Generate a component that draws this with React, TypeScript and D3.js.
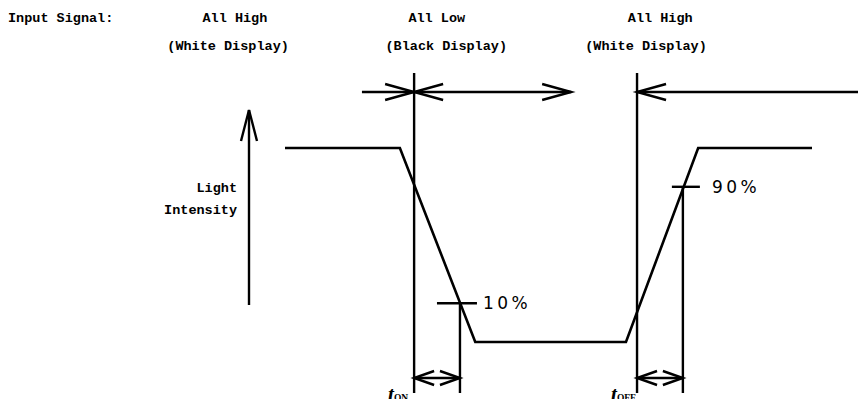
import React from 'react';
import * as d3 from 'd3';

// waveform of light intensity (time units, intensity %)
const waveTime = [0, 21.8, 36.1, 64.7, 78.4, 100];
const waveLevel = [100, 100, 0, 0, 100, 100];

// input signal edges and response points
const signalEdges = [24.5, 66.8];
const responsePoints = [33.2, 75.5];
const markerLevels = [20, 80];
const markerLabels = ['10%', '90%'];
const timeLabels = [
    { main: 't', sub: 'ON' },
    { main: 't', sub: 'OFF' },
];

// input signal states
const stateTitles = ['All High', 'All Low', 'All High'];
const stateSubtitles = ['(White Display)', '(Black Display)', '(White Display)'];
const stateCenters = [-9.5, 28.8, 71.2];
const subCenters = [-10.8, 30.6, 68.5];
const spanStarts = [14.6, 24.5, 66.8];
const spanEnds = [24.5, 54.3, 110.2];

const W = 866;
const H = 407;

const App: React.FC = () => {
    const x = d3.scaleLinear().domain([0, 100]).range([285, 812]);
    const y = d3.scaleLinear().domain([0, 100]).range([342, 148]);

    const wave = d3
        .line<number>()
        .x((_d, i) => x(waveTime[i]))
        .y((d) => y(d));

    const mono = "'Liberation Mono', 'DejaVu Sans Mono', monospace";
    const topY = 92;
    const dimY = 378;
    const lineTop = 73;
    const lineBottom = 393;

    // open chevron arrowhead at (px, py) pointing in direction dir (+1 right, -1 left)
    const chevron = (px: number, py: number, dir: number, len: number, spread: number) =>
        `M${px - dir * len},${py - spread}L${px},${py}L${px - dir * len},${py + spread}`;

    return (
        <svg width={W} height={H} style={{ display: 'block', margin: '-8px', background: '#fff' }}>
            <g fill="#000" fontFamily={mono} fontWeight="bold" fontSize={13.5}>
                <text x={8} y={22}>Input Signal:</text>
                {stateTitles.map((t, i) => (
                    <text key={'t' + i} x={x(stateCenters[i])} y={22} textAnchor="middle">{t}</text>
                ))}
                {stateSubtitles.map((t, i) => (
                    <text key={'s' + i} x={x(subCenters[i])} y={50} textAnchor="middle">{t}</text>
                ))}
                <text x={237} y={192} textAnchor="end">Light</text>
                <text x={237} y={214} textAnchor="end">Intensity</text>
            </g>

            <g stroke="#000" strokeWidth={2.4} fill="none">
                {/* intensity axis arrow */}
                <line x1={249} y1={305} x2={249} y2={110} />
                <path d="M241,141L249,110L257,141" />

                {/* light intensity waveform */}
                <path d={wave(waveLevel) || ''} strokeWidth={2.6} />

                {/* input signal edges */}
                {signalEdges.map((t, i) => (
                    <line key={'e' + i} x1={x(t)} x2={x(t)} y1={lineTop} y2={lineBottom} />
                ))}
                {/* response points */}
                {responsePoints.map((t, i) => (
                    <g key={'r' + i}>
                        <line x1={x(t)} x2={x(t)} y1={y(markerLevels[i])} y2={lineBottom} />
                        <line x1={x(t) - 23 + i * 12} x2={x(t) + 17} y1={y(markerLevels[i])} y2={y(markerLevels[i])} />
                    </g>
                ))}

                {/* input signal spans */}
                {spanStarts.map((s, i) => (
                    <line key={'sp' + i} x1={x(s)} x2={x(spanEnds[i])} y1={topY} y2={topY} />
                ))}
                <path d={chevron(x(signalEdges[0]), topY, 1, 29, 8)} />
                <path d={chevron(x(signalEdges[0]), topY, -1, 29, 8)} />
                <path d={chevron(x(spanEnds[1]), topY, 1, 29, 8)} />
                <path d={chevron(x(signalEdges[1]), topY, -1, 29, 8)} />

                {/* response time dimensions */}
                {signalEdges.map((t, i) => (
                    <g key={'d' + i}>
                        <line x1={x(t)} x2={x(responsePoints[i])} y1={dimY} y2={dimY} />
                        <path d={chevron(x(t), dimY, -1, 20, 7)} />
                        <path d={chevron(x(responsePoints[i]), dimY, 1, 20, 7)} />
                    </g>
                ))}
            </g>

            <g fill="#000" fontFamily="'DejaVu Sans', sans-serif" fontSize={17} letterSpacing={3.5}>
                {markerLabels.map((m, i) => (
                    <text key={'m' + i} x={x(responsePoints[i]) + 23 + i * 6} y={y(markerLevels[i]) + 6}>{m}</text>
                ))}
            </g>

            <g fill="#000" fontFamily="'Liberation Serif', serif" fontWeight="bold">
                {timeLabels.map((l, i) => (
                    <text key={'tl' + i} x={x(signalEdges[i]) - 26} y={401}>
                        <tspan fontSize={21} fontStyle="italic">{l.main}</tspan>
                        <tspan fontSize={9.5} dy={0}>{l.sub}</tspan>
                    </text>
                ))}
            </g>
        </svg>
    );
};

export default App;
